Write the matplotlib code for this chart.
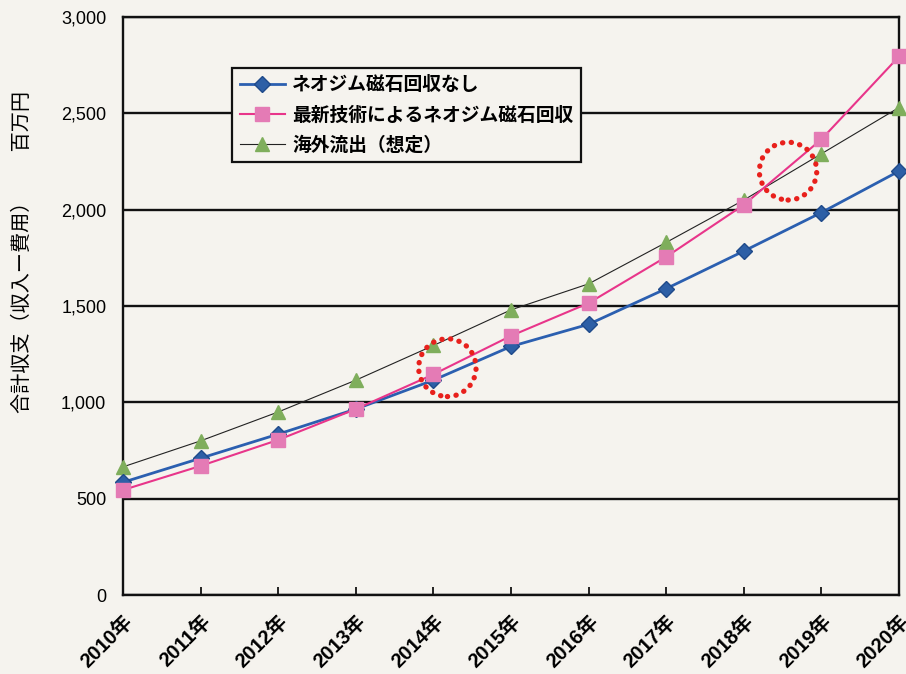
import matplotlib
matplotlib.use("Agg")
import matplotlib.pyplot as plt
from matplotlib.patches import Ellipse

plt.rcParams['font.family'] = ['Noto Sans CJK JP', 'DejaVu Sans']

years = [2010, 2011, 2012, 2013, 2014, 2015, 2016, 2017, 2018, 2019, 2020]
year_labels = [f"{y}年" for y in years]
no_recovery = [585, 710, 835, 965, 1115, 1290, 1405, 1590, 1785, 1985, 2200]
new_tech = [545, 670, 805, 965, 1145, 1345, 1515, 1755, 2025, 2365, 2795]
overseas = [665, 800, 950, 1115, 1295, 1480, 1615, 1830, 2050, 2290, 2530]
series_names = ["ネオジム磁石回収なし", "最新技術によるネオジム磁石回収", "海外流出（想定）"]
y_ticks = [0, 500, 1000, 1500, 2000, 2500, 3000]
y_label = "合計収支（収入ー費用）　　百万円"

bg = "#f5f3ee"
fig = plt.figure(figsize=(9.06, 6.74), dpi=100, facecolor=bg)
ax = fig.add_axes([123/906, 1-595/674, 776/906, 578/674], facecolor=bg)

ax.plot(years, no_recovery, color="#2b5fb0", lw=2.0, marker="D", ms=8,
        mfc="#2d5fa6", mec="#1f4a8a", clip_on=False, zorder=4, label=series_names[0])
ax.plot(years, new_tech, color="#e8358a", lw=1.5, marker="s", ms=10,
        mfc="#e47bb5", mec="#e47bb5", clip_on=False, zorder=5, label=series_names[1])
ax.plot(years, overseas, color="#222222", lw=0.8, marker="^", ms=10,
        mfc="#7fae5c", mec="#7fae5c", clip_on=False, zorder=3, label=series_names[2])

ax.set_xlim(years[0], years[-1])
ax.set_ylim(0, 3000)
ax.set_yticks(y_ticks)
ax.set_yticklabels([f"{v:,}" for v in y_ticks], fontsize=13, family=['Liberation Sans', 'DejaVu Sans'])
ax.set_xticks(years)
ax.set_xticklabels(year_labels, rotation=45, ha="right", va="top", rotation_mode="anchor",
                   fontsize=14.5, fontweight="bold", family=['Liberation Sans', 'Noto Sans CJK JP'])
ax.tick_params(axis="x", direction="in", length=6, width=1.2, pad=12)
ax.tick_params(axis="y", length=0, pad=12)
ax.yaxis.grid(True, color="#111111", lw=1.7)
ax.set_axisbelow(True)
for s in ax.spines.values():
    s.set_color("#111111")
    s.set_linewidth(1.7)

ax.set_ylabel(y_label, fontsize=14.5)
ax.yaxis.set_label_coords(-0.116, 0.593)

leg = ax.legend(loc="upper left", bbox_to_anchor=(0.1405, 0.912), fontsize=13.5,
                frameon=True, fancybox=False, edgecolor="#111111", facecolor=bg,
                framealpha=1, handlelength=2.4, handletextpad=0.4, borderpad=0.4,
                labelspacing=0.6, borderaxespad=0)
leg.get_frame().set_linewidth(1.6)
for t in leg.get_texts():
    t.set_fontweight("bold")

# red dotted circle annotations
for cx, cy in [(2014.18, 1180), (2018.57, 2200)]:
    e = Ellipse((cx, cy), width=0.74, height=300, fill=False, edgecolor="#e8201c",
                lw=3.8, linestyle=(0, (0.05, 1.6)), zorder=6)
    e.set_capstyle("round")
    ax.add_patch(e)

fig.savefig("out.png", dpi=100, facecolor=bg)
